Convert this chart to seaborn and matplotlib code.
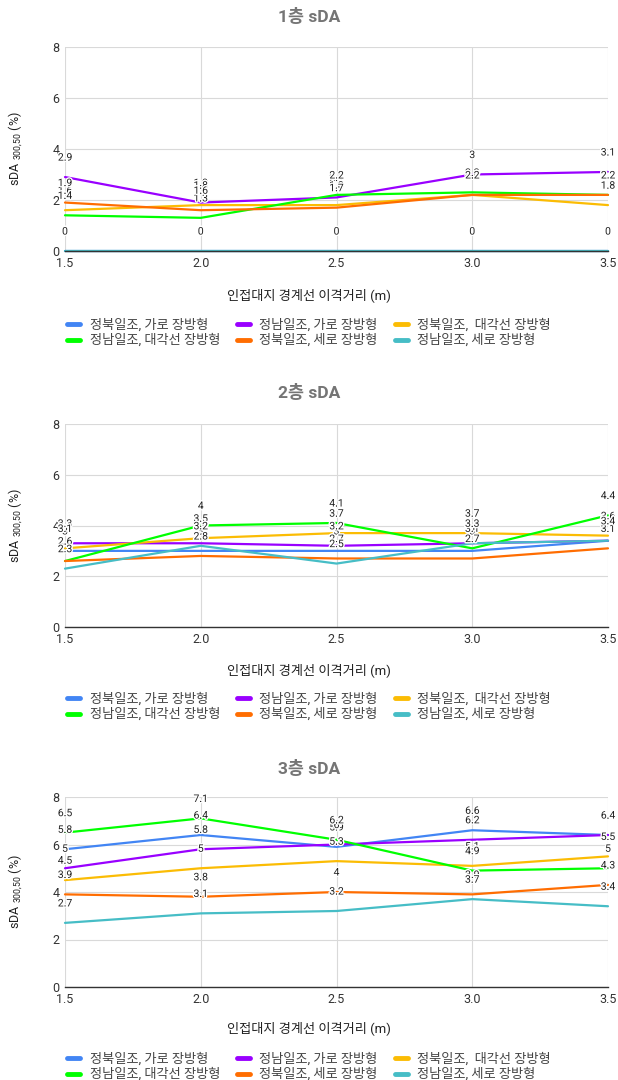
import matplotlib
matplotlib.use("Agg")
import numpy as np
import pandas as pd
import matplotlib.pyplot as plt
import seaborn as sns
from matplotlib.lines import Line2D
import matplotlib.patheffects as pe

# x positions (m)
x_vals = [1.5, 2.0, 2.5, 3.0, 3.5]
x_labels = ["1.5", "2.0", "2.5", "3.0", "3.5"]

series_names = ["정북일조, 가로 장방형", "정남일조, 가로 장방형", "정북일조,  대각선 장방형",
                "정남일조, 대각선 장방형", "정북일조, 세로 장방형", "정남일조, 세로 장방형"]
colors = ["#4285f4", "#9900ff", "#fbbc04", "#00ff00", "#ff6d01", "#46bdc6"]

# 1층
f1_north_horiz = [0, 0, 0, 0, 0]
f1_south_horiz = [2.9, 1.9, 2.1, 3.0, 3.1]
f1_north_diag = [1.6, 1.8, 1.8, 2.2, 1.8]
f1_south_diag = [1.4, 1.3, 2.2, 2.3, 2.2]
f1_north_vert = [1.9, 1.6, 1.7, 2.2, 2.2]
f1_south_vert = [0, 0, 0, 0, 0]

# 2층
f2_north_horiz = [3.0, 3.0, 3.0, 3.0, 3.4]
f2_south_horiz = [3.3, 3.3, 3.2, 3.3, 3.4]
f2_north_diag = [3.1, 3.5, 3.7, 3.7, 3.6]
f2_south_diag = [2.6, 4.0, 4.1, 3.1, 4.4]
f2_north_vert = [2.6, 2.8, 2.7, 2.7, 3.1]
f2_south_vert = [2.3, 3.2, 2.5, 3.3, 3.4]

# 3층
f3_north_horiz = [5.8, 6.4, 5.9, 6.6, 6.4]
f3_south_horiz = [5.0, 5.8, 6.0, 6.2, 6.4]
f3_north_diag = [4.5, 5.0, 5.3, 5.1, 5.5]
f3_south_diag = [6.5, 7.1, 6.2, 4.9, 5.0]
f3_north_vert = [3.9, 3.8, 4.0, 3.9, 4.3]
f3_south_vert = [2.7, 3.1, 3.2, 3.7, 3.4]

titles = ["1층 sDA", "2층 sDA", "3층 sDA"]
x_title = "인접대지 경계선 이격거리 (m)"
y_title = r"sDA $_{\mathregular{300{,}50}}$ (%)"


def to_long(cols):
    rows = []
    for name, vals in zip(series_names, cols):
        for xv, v in zip(x_vals, vals):
            rows.append({"x": xv, "value": v, "series": name})
    return pd.DataFrame(rows)


floors = [
    to_long([f1_north_horiz, f1_south_horiz, f1_north_diag, f1_south_diag, f1_north_vert, f1_south_vert]),
    to_long([f2_north_horiz, f2_south_horiz, f2_north_diag, f2_south_diag, f2_north_vert, f2_south_vert]),
    to_long([f3_north_horiz, f3_south_horiz, f3_north_diag, f3_south_diag, f3_north_vert, f3_south_vert]),
]

sns.set_style("whitegrid")
plt.rcParams["font.family"] = ["Roboto", "Noto Sans CJK KR", "DejaVu Sans"]
plt.rcParams["axes.unicode_minus"] = False

W, H = 618, 1080
fig = plt.figure(figsize=(W / 100, H / 100), dpi=100)

# pixel layout: (top of plot, bottom of plot, title y, xlabel y, legend top)
layout = [
    (47, 251, 17, 295, 312),
    (424, 627, 392, 670, 686),
    (797, 987, 768, 1028, 1046),
]
left_px, right_px = 65, 608

for df, title, (top, bot, ty, xly, lgy) in zip(floors, titles, layout):
    ax = fig.add_axes([left_px / W, 1 - bot / H, (right_px - left_px) / W, (bot - top) / H])
    sns.lineplot(data=df, x="x", y="value", hue="series", hue_order=series_names,
                 palette=colors, linewidth=1.6, ax=ax, legend=False)
    for line in ax.get_lines():
        line.set_clip_on(False)
    for _, r in df.iterrows():
        ax.annotate(f"{r['value']:g}", (r["x"], r["value"]), xytext=(0, 14),
                    textcoords="offset points", ha="center", va="center",
                    fontsize=7.5, color="#222222", zorder=5,
                    path_effects=[pe.withStroke(linewidth=2, foreground="white")])
    ax.set_xlim(1.5, 3.5)
    ax.set_ylim(0, 8)
    ax.set_xticks(x_vals)
    ax.set_xticklabels(x_labels)
    ax.set_yticks([0, 2, 4, 6, 8])
    ax.set_xlabel("")
    ax.set_ylabel("")
    ax.grid(True, color="#d9d9d9", linewidth=0.8)
    for s in ["top", "left", "right"]:
        ax.spines[s].set_visible(False)
    ax.spines["bottom"].set_color("#333333")
    ax.spines["bottom"].set_linewidth(1.0)
    ax.tick_params(length=0, labelsize=9, colors="#333333", pad=4)

    fig.text(0.5, 1 - ty / H, title, ha="center", va="center", fontsize=12.5,
             fontweight="bold", color="#757575")
    fig.text(0.5, 1 - xly / H, x_title, ha="center", va="center", fontsize=9.5,
             color="#222222")
    fig.text(15 / W, 1 - (top + bot) / 2 / H, y_title, ha="center", va="center",
             rotation=90, fontsize=9, color="#222222")

    handles = [Line2D([0], [0], color=c, linewidth=3.5, solid_capstyle="round") for c in colors]
    order = [0, 3, 1, 4, 2, 5]
    fig.legend([handles[i] for i in order], [series_names[i] for i in order],
               loc="upper center", bbox_to_anchor=(0.5, 1 - lgy / H), ncol=3,
               frameon=False, fontsize=9.5, handlelength=1.0, handletextpad=0.7,
               columnspacing=1.3, labelspacing=0.15, labelcolor="#444444",
               borderpad=0)

fig.savefig("out.png", dpi=100)
